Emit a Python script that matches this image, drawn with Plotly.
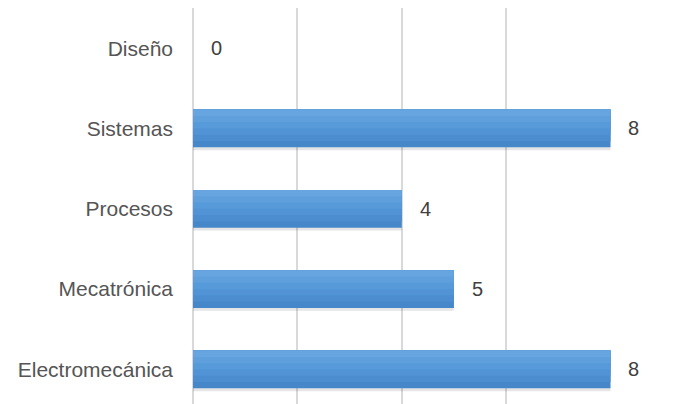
import plotly.graph_objects as go

# categories listed bottom to top, as plotly draws them
categorias = ["Electromecánica", "Mecatrónica", "Procesos", "Sistemas", "Diseño"]
valores = [8, 5, 4, 8, 0]
ticks_x = [0, 2, 4, 6, 8]

ANCHO = 0.47
# bands from bottom (darker) to top (lighter) to fake the gradient fill
bandas = ["#4687ca", "#4b8dcf", "#5193d4", "#579ad9", "#5e9fdc", "#66a5df"]

fig = go.Figure()

# soft shadow under each bar
fig.add_trace(
    go.Bar(
        x=valores,
        y=categorias,
        orientation="h",
        width=ANCHO,
        offset=-ANCHO / 2 - 0.035,
        marker=dict(color="rgba(0,0,0,0.10)", line=dict(width=0)),
        hoverinfo="skip",
    )
)

paso = ANCHO / len(bandas)
for i, color in enumerate(bandas):
    fig.add_trace(
        go.Bar(
            x=valores,
            y=categorias,
            orientation="h",
            width=ANCHO - i * paso,
            offset=-ANCHO / 2 + i * paso,
            marker=dict(color=color, line=dict(width=0)),
            hoverinfo="skip" if i else "x+y",
        )
    )

# value labels to the right of each bar
for cat, val in zip(categorias, valores):
    fig.add_annotation(
        x=val,
        y=cat,
        text=str(val),
        showarrow=False,
        xanchor="left",
        xshift=16,
        font=dict(size=20, color="#404040"),
    )

fig.update_layout(
    width=689,
    height=396,
    margin=dict(l=185, r=86, t=0, b=0),
    paper_bgcolor="white",
    plot_bgcolor="white",
    showlegend=False,
    barmode="overlay",
    font=dict(family="Liberation Sans, Arial, sans-serif", size=21, color="#555555"),
    xaxis=dict(
        range=[0, 8.01],
        tickvals=ticks_x,
        showticklabels=False,
        showgrid=True,
        gridcolor="#d9d9d9",
        gridwidth=2,
        zeroline=True,
        zerolinecolor="#d9d9d9",
        zerolinewidth=2,
        automargin=False,
        fixedrange=True,
    ),
    yaxis=dict(
        categoryorder="array",
        categoryarray=categorias,
        range=[-0.43, 4.5],
        showgrid=False,
        zeroline=False,
        ticks="",
        ticklabelstandoff=19,
        automargin=False,
        fixedrange=True,
    ),
)

fig.write_html("out.html")
